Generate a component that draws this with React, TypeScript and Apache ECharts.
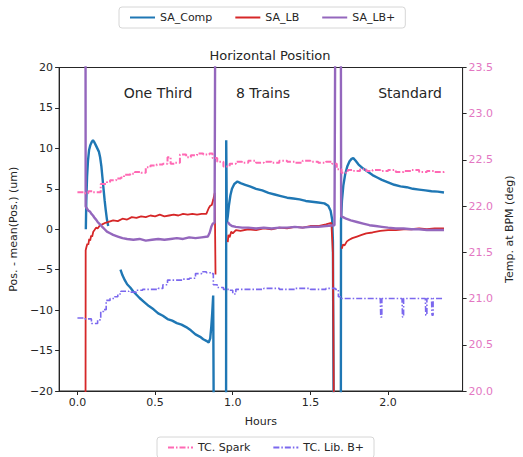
import React, { useEffect, useRef } from "react";
import * as echarts from "echarts";

// ---------- data ----------
const xTickValues = [0, 0.5, 1.0, 1.5, 2.0];
const sectionLabels = ["One Third", "8 Trains", "Standard"];

const compHours = [
  0.054, 0.057, 0.062, 0.068, 0.075, 0.083, 0.092, 0.1, 0.108, 0.118, 0.128, 0.138, 0.146, 0.154, 0.161, 0.168, 0.175, 0.182, 0.19, 0.198,
  0.24,
  0.277, 0.29, 0.305, 0.32, 0.34, 0.36, 0.38, 0.4, 0.43, 0.46, 0.49, 0.52, 0.55, 0.58, 0.61, 0.64, 0.67, 0.7, 0.73, 0.76, 0.79, 0.81, 0.83, 0.845, 0.855, 0.862, 0.868, 0.874, 0.878,
  0.92,
  0.957, 0.958, 0.962, 0.968, 0.975, 0.985, 0.995, 1.01, 1.03, 1.05, 1.08, 1.11, 1.15, 1.19, 1.23, 1.27, 1.31, 1.35, 1.39, 1.43, 1.47, 1.51, 1.55, 1.59, 1.615, 1.63, 1.64, 1.645, 1.65,
  1.67,
  1.696, 1.697, 1.703, 1.712, 1.724, 1.738, 1.752, 1.765, 1.776, 1.79, 1.81, 1.84, 1.87, 1.9, 1.93, 1.96, 2.0, 2.04, 2.08, 2.12, 2.16, 2.2, 2.24, 2.28, 2.32, 2.36,
];
const compValues = [
  0.0, 3.5, 6.5, 8.5, 9.8, 10.4, 10.8, 11.0, 10.8, 10.4, 10.0, 9.6, 8.9, 7.8, 6.4, 5.0, 3.6, 2.4, 1.2, 0.4,
  null,
  -5.0, -5.7, -6.3, -6.8, -7.2, -7.7, -8.1, -8.5, -9.0, -9.5, -9.9, -10.4, -10.7, -11.1, -11.3, -11.6, -11.8, -12.1, -12.5, -13.0, -13.3, -13.6, -13.8, -14.0, -13.5, -12.0, -10.3, -8.2, -25,
  null,
  -25, 11.0, 0.8, 1.6, 2.9, 4.2, 5.0, 5.6, 5.9, 5.7, 5.5, 5.3, 5.0, 4.8, 4.5, 4.3, 4.1, 3.9, 3.8, 3.7, 3.5, 3.4, 3.3, 3.2, 2.9, 2.3, 1.2, -1.5, -25,
  null,
  -25, 1.0, 3.5, 5.4, 6.8, 7.8, 8.4, 8.7, 8.8, 8.5, 8.0, 7.5, 7.1, 6.7, 6.4, 6.1, 5.8, 5.5, 5.3, 5.2, 5.0, 4.9, 4.8, 4.7, 4.65, 4.55,
];

const lbHours = [
  0.052, 0.053, 0.058, 0.064, 0.07, 0.076, 0.082, 0.088, 0.095, 0.102, 0.11, 0.12, 0.13, 0.145, 0.16, 0.18, 0.2, 0.23, 0.26, 0.29, 0.32, 0.35, 0.38, 0.41, 0.44, 0.47, 0.5, 0.53, 0.56, 0.59, 0.62, 0.65, 0.68, 0.71, 0.74, 0.77, 0.8, 0.83, 0.845, 0.855, 0.865, 0.875, 0.884, 0.889,
  0.93,
  0.968, 0.972, 0.98, 0.99, 1.0, 1.02, 1.05, 1.1, 1.15, 1.2, 1.25, 1.3, 1.35, 1.4, 1.45, 1.5, 1.55, 1.6, 1.635, 1.645, 1.652,
  1.68,
  1.702, 1.71, 1.72, 1.735, 1.75, 1.77, 1.8, 1.83, 1.86, 1.9, 1.95, 2.0, 2.05, 2.1, 2.15, 2.2, 2.25, 2.3, 2.36,
];
const lbValues = [
  -25, -2.6, -2.2, -1.8, -1.9, -1.2, -1.4, -0.8, -0.9, -0.3, -0.1, 0.2, 0.1, 0.5, 0.6, 0.8, 0.9, 1.1, 1.0, 1.3, 1.2, 1.5, 1.4, 1.6, 1.5, 1.7, 1.6, 1.8, 1.6, 1.7, 1.8, 1.7, 1.9, 1.8, 1.9, 1.8, 1.9, 1.9, 2.6, 2.9, 3.0, 3.7, 4.5, -5.6,
  null,
  -1.6, -0.7, -1.0, -0.3, -0.5, -0.1, -0.2, 0.0, -0.1, 0.1, 0.0, 0.2, 0.1, 0.3, 0.2, 0.4, 0.4, 0.6, 0.8, -3.0, -25,
  null,
  -2.4, -1.9, -2.0, -1.5, -1.3, -1.1, -0.9, -0.7, -0.5, -0.4, -0.2, -0.1, -0.1, 0.0, 0.0, 0.1, 0.0, 0.1, 0.1,
];

const lbPlusHours = [
  0.052, 0.053, 0.06, 0.07, 0.08, 0.09, 0.1, 0.11, 0.12, 0.13, 0.145, 0.16, 0.175, 0.19, 0.21, 0.23, 0.26, 0.29, 0.32, 0.36, 0.4, 0.44, 0.48, 0.52, 0.56, 0.6, 0.64, 0.68, 0.72, 0.76, 0.8, 0.84, 0.852, 0.862, 0.872, 0.883, 0.887,
  0.93,
  0.968, 0.98, 0.995, 1.02, 1.06, 1.1, 1.15, 1.2, 1.25, 1.3, 1.35, 1.4, 1.45, 1.5, 1.55, 1.6, 1.655, 1.66,
  1.68,
  1.696, 1.698, 1.71, 1.73, 1.76, 1.8, 1.84, 1.88, 1.92, 1.96, 2.0, 2.05, 2.1, 2.15, 2.2, 2.25, 2.3, 2.36,
];
const lbPlusValues = [
  25, 2.8, 2.6, 2.3, 2.2, 1.9, 1.7, 1.4, 1.2, 0.9, 0.6, 0.3, 0.0, -0.3, -0.5, -0.7, -0.9, -1.1, -1.2, -1.3, -1.2, -1.4, -1.3, -1.2, -1.3, -1.2, -1.1, -1.2, -1.0, -1.1, -1.0, -0.9, -0.4, 0.3, 0.7, 0.8, 25,
  null,
  0.9, 0.6, 0.4, 0.3, 0.2, 0.2, 0.1, 0.2, 0.1, 0.2, 0.2, 0.3, 0.2, 0.3, 0.3, 0.4, 0.5, 25,
  null,
  25, 1.6, 1.5, 1.3, 1.1, 0.9, 0.7, 0.5, 0.4, 0.3, 0.2, 0.1, 0.1, 0.0, 0.0, -0.1, -0.1, -0.1,
];

const sparkHours = [
  0.0, 0.04, 0.07, 0.1, 0.14, 0.15, 0.19, 0.21, 0.25, 0.28, 0.3, 0.34, 0.37, 0.41, 0.44, 0.47, 0.51, 0.55, 0.58, 0.6, 0.63, 0.66, 0.7, 0.73, 0.77, 0.81, 0.85, 0.87, 0.9, 0.94, 0.98, 1.02, 1.06, 1.1, 1.15, 1.2, 1.25, 1.3, 1.35, 1.4, 1.45, 1.5, 1.55, 1.6, 1.64, 1.67, 1.7, 1.74, 1.78, 1.82, 1.86, 1.9, 1.95, 2.0, 2.05, 2.1, 2.15, 2.2, 2.25, 2.3, 2.36,
];
const sparkValues = [
  22.15, 22.14, 22.16, 22.15, 22.15, 22.24, 22.26, 22.28, 22.3, 22.31, 22.34, 22.35, 22.37, 22.36, 22.42, 22.44, 22.45, 22.46, 22.53, 22.46, 22.47, 22.56, 22.53, 22.55, 22.57, 22.56, 22.57, 22.52, 22.48, 22.43, 22.46, 22.48, 22.47, 22.49, 22.47, 22.48, 22.47, 22.49, 22.48, 22.47, 22.49, 22.48, 22.47, 22.48, 22.46, 22.4, 22.36, 22.39, 22.38, 22.4, 22.38, 22.39, 22.38, 22.39, 22.37, 22.38, 22.39, 22.37, 22.38, 22.37, 22.38,
];

const libHours = [
  0.0, 0.05, 0.09, 0.13, 0.15, 0.17, 0.185, 0.21, 0.24, 0.26, 0.28, 0.33, 0.38, 0.42, 0.47, 0.52, 0.55, 0.58, 0.63, 0.68, 0.72, 0.76, 0.8, 0.83, 0.86, 0.875, 0.9, 0.94, 0.98, 1.0, 1.02, 1.1, 1.2, 1.3, 1.4, 1.5, 1.6, 1.66, 1.68, 1.7, 1.8, 1.9, 1.95, 1.953, 1.96, 2.05, 2.09, 2.093, 2.1, 2.2, 2.24, 2.243, 2.25, 2.28, 2.283, 2.29, 2.36,
];
const libValues = [
  20.79, 20.78, 20.73, 20.77, 20.86, 20.88, 20.98, 21.0, 21.02, 21.05, 21.08, 21.07, 21.09, 21.1, 21.1, 21.11, 21.15, 21.2, 21.2, 21.21, 21.22, 21.27, 21.29, 21.28, 21.27, 21.15, 21.12, 21.1, 21.09, 21.05, 21.1, 21.1, 21.11, 21.1, 21.11, 21.1, 21.11, 21.1, 21.02, 21.0, 21.0, 21.0, 21.0, 20.8, 21.0, 21.0, 21.0, 20.8, 21.0, 21.0, 21.0, 20.82, 21.0, 21.0, 20.82, 21.0, 21.0,
];

// ---------- helpers ----------
const pairs = (hs: number[], vs: (number | null)[]) =>
  hs.map((h, i) => [h, vs[i] === null ? "-" : vs[i]]);

const FONT = "DejaVu Sans";
const INK = "#262626";
const PINK = "#e377c2";

export default function App() {
  const ref = useRef<HTMLDivElement>(null);

  useEffect(() => {
    if (!ref.current) return;
    const chart = echarts.init(ref.current, undefined, { renderer: "svg" });

    const fmtSigned = (v: number) => (v < 0 ? "\u2212" + Math.abs(v) : String(v));

    const legendBase = {
      itemWidth: 25,
      itemHeight: 10,
      itemGap: 22,
      padding: [5, 10],
      borderColor: "#d6d6d6",
      borderWidth: 1,
      borderRadius: 3,
      itemStyle: { opacity: 0 },
      textStyle: { fontFamily: FONT, fontSize: 11, color: INK },
    };

    const option: any = {
      animation: false,
      backgroundColor: "#ffffff",
      textStyle: { fontFamily: FONT },
      title: {
        text: "Horizontal Position",
        left: 265,
        top: 44,
        textAlign: "center",
        textStyle: { fontFamily: FONT, fontSize: 13, fontWeight: "normal", color: INK },
      },
      legend: [
        { ...legendBase, data: ["SA_Comp", "SA_LB", "SA_LB+"], left: 119, top: 7 },
        { ...legendBase, data: ["TC. Spark", "TC. Lib. B+"], left: 157, top: 437 },
      ],
      grid: {
        left: 59,
        right: 51,
        top: 67.5,
        bottom: 66,
        show: true,
        borderColor: INK,
        borderWidth: 1,
        containLabel: false,
      },
      xAxis: {
        type: "value",
        min: -0.118,
        max: 2.48,
        name: "Hours",
        nameLocation: "middle",
        nameGap: 25,
        nameTextStyle: { fontFamily: FONT, fontSize: 11, color: INK },
        axisLine: { show: true, onZero: false, lineStyle: { color: INK } },
        axisTick: { show: true, length: 4, lineStyle: { color: INK }, customValues: xTickValues },
        axisLabel: {
          fontFamily: FONT,
          fontSize: 11,
          color: INK,
          margin: 6,
          customValues: xTickValues,
          formatter: (v: number) => v.toFixed(1),
        },
        splitLine: { show: false },
      },
      yAxis: [
        {
          type: "value",
          min: -20,
          max: 20,
          interval: 5,
          position: "left",
          name: "Pos. - mean(Pos.) (um)",
          nameLocation: "middle",
          nameRotate: 90,
          nameGap: 36,
          nameTextStyle: { fontFamily: FONT, fontSize: 11, color: INK },
          axisLine: { show: true, onZero: false, lineStyle: { color: INK } },
          axisTick: { show: true, length: 4, lineStyle: { color: INK } },
          axisLabel: { fontFamily: FONT, fontSize: 11, color: INK, margin: 6, formatter: fmtSigned },
          splitLine: { show: false },
        },
        {
          type: "value",
          min: 20,
          max: 23.5,
          interval: 0.5,
          position: "right",
          name: "Temp. at BPM (deg)",
          nameLocation: "middle",
          nameRotate: 90,
          nameGap: 38,
          nameTextStyle: { fontFamily: FONT, fontSize: 11, color: INK },
          axisLine: { show: true, onZero: false, lineStyle: { color: INK } },
          axisTick: { show: true, length: 4, lineStyle: { color: INK } },
          axisLabel: {
            fontFamily: FONT,
            fontSize: 11,
            color: PINK,
            margin: 6,
            formatter: (v: number) => v.toFixed(1),
          },
          splitLine: { show: false },
        },
      ],
      graphic: [
        { type: "text", x: 158, y: 93, style: { text: sectionLabels[0], font: `14px "${FONT}"`, fill: INK, align: "center", verticalAlign: "middle" } },
        { type: "text", x: 263, y: 93, style: { text: sectionLabels[1], font: `14px "${FONT}"`, fill: INK, align: "center", verticalAlign: "middle" } },
        { type: "text", x: 410, y: 93, style: { text: sectionLabels[2], font: `14px "${FONT}"`, fill: INK, align: "center", verticalAlign: "middle" } },
      ],
      series: [
        {
          name: "SA_Comp",
          type: "line",
          yAxisIndex: 0,
          data: pairs(compHours, compValues),
          symbol: "none",
          showSymbol: false,
          connectNulls: false,
          clip: true,
          lineStyle: { color: "#1f77b4", width: 2.4 },
          itemStyle: { color: "#1f77b4" },
        },
        {
          name: "SA_LB",
          type: "line",
          yAxisIndex: 0,
          data: pairs(lbHours, lbValues),
          symbol: "none",
          showSymbol: false,
          connectNulls: false,
          clip: true,
          lineStyle: { color: "#d62728", width: 1.8 },
          itemStyle: { color: "#d62728" },
        },
        {
          name: "SA_LB+",
          type: "line",
          yAxisIndex: 0,
          data: pairs(lbPlusHours, lbPlusValues),
          symbol: "none",
          showSymbol: false,
          connectNulls: false,
          clip: true,
          lineStyle: { color: "#9467bd", width: 2.4 },
          itemStyle: { color: "#9467bd" },
        },
        {
          name: "TC. Spark",
          type: "line",
          yAxisIndex: 1,
          step: "end",
          data: pairs(sparkHours, sparkValues),
          symbol: "none",
          showSymbol: false,
          clip: true,
          lineStyle: { color: "#ff69b4", width: 2, type: [6, 2, 1.5, 2] },
          itemStyle: { color: "#ff69b4" },
        },
        {
          name: "TC. Lib. B+",
          type: "line",
          yAxisIndex: 1,
          step: "end",
          data: pairs(libHours, libValues),
          symbol: "none",
          showSymbol: false,
          clip: true,
          lineStyle: { color: "#7b68ee", width: 1.6, type: [6, 2, 1.5, 2] },
          itemStyle: { color: "#7b68ee" },
        },
      ],
    };

    chart.setOption(option);
    return () => chart.dispose();
  }, []);

  return (
    <div
      ref={ref}
      style={{ position: "fixed", left: 0, top: 0, width: 523, height: 457, background: "#fff" }}
    />
  );
}
